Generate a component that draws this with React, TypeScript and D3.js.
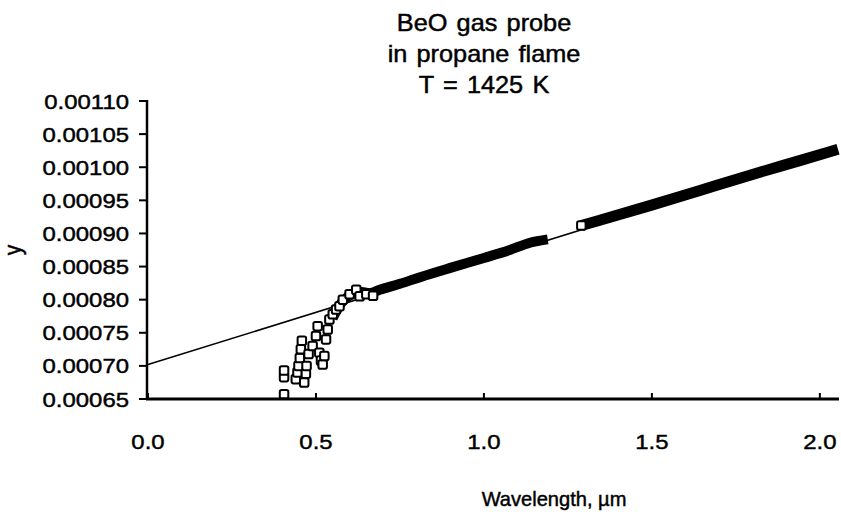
import React from "react";
import * as d3 from "d3";

const titleLines = ["BeO gas probe", "in propane flame", "T = 1425 K"];
const xTicks = [0.0, 0.5, 1.0, 1.5, 2.0];
const yTicks = [0.0011, 0.00105, 0.001, 0.00095, 0.0009, 0.00085, 0.0008, 0.00075, 0.0007, 0.00065];

// Fitted line endpoints
const fitX = [0, 2.054];
const fitY = [0.000702, 0.001026];

const bandAX = [0.55, 0.571, 0.6, 0.63, 0.66, 0.69, 0.75, 0.81, 0.9, 1.0, 1.077, 1.137, 1.19];
const bandAY = [0.000772, 0.000792, 0.000806, 0.000812, 0.00081, 0.000815, 0.000824, 0.000834, 0.000848, 0.000863, 0.000875, 0.000886, 0.000891];
const bandBX = [1.29, 1.345, 1.494, 1.643, 1.792, 1.94, 2.054];
const bandBY = [0.000912, 0.00092, 0.000942, 0.000965, 0.000988, 0.00101, 0.001027];

// Sparse square markers
const sparseX = [0.405, 0.405, 0.405, 0.44, 0.445, 0.448, 0.452, 0.455, 0.458, 0.465, 0.47, 0.472, 0.478, 0.49, 0.5, 0.505, 0.51, 0.515, 0.52, 0.525, 0.53, 0.535, 0.54, 0.55, 0.56, 0.57, 0.58, 0.6, 0.62, 0.63, 0.65, 0.67, 1.29];
const sparseY = [0.000657, 0.000683, 0.000693, 0.00068, 0.00069, 0.0007, 0.000712, 0.000725, 0.000738, 0.000675, 0.000688, 0.0007, 0.000718, 0.00073, 0.000745, 0.00076, 0.00072, 0.000708, 0.000702, 0.000715, 0.00074, 0.000755, 0.00077, 0.000778, 0.000785, 0.00079, 0.0008, 0.000808, 0.000815, 0.000805, 0.000808, 0.000806, 0.000912];

const W = 841;
const H = 512;
const SX = 1.14;
const FONT = "'Liberation Sans', Arial, Helvetica, sans-serif";

export default function App() {
  const x = d3.scaleLinear().domain([0, 2.054]).range([148, 838]);
  const y = d3.scaleLinear().domain([0.00065, 0.0011]).range([399, 101]);
  const line = d3
    .line<[number, number]>()
    .x((d) => x(d[0]))
    .y((d) => y(d[1]))
    .curve(d3.curveMonotoneX);
  const straight = d3
    .line<[number, number]>()
    .x((d) => x(d[0]))
    .y((d) => y(d[1]));

  const fit: [number, number][] = fitX.map((v, i) => [v, fitY[i]]);
  const bandA: [number, number][] = bandAX.map((v, i) => [v, bandAY[i]]);
  const bandB: [number, number][] = bandBX.map((v, i) => [v, bandBY[i]]);
  const sq = 8.5;
  const textProps = { fill: "#000", stroke: "#000", strokeWidth: 0.45 };

  return (
    <svg
      width={W}
      height={H}
      style={{ position: "absolute", left: 0, top: 0, background: "#fff" }}
      fontFamily={FONT}
    >
      <rect width={W} height={H} fill="#fff" />
      {titleLines.map((t, i) => (
        <text
          key={t}
          transform={`translate(484,${31 + i * 31}) scale(1.1,1)`}
          textAnchor="middle"
          fontSize={23}
          wordSpacing={2}
          {...textProps}
        >
          {t}
        </text>
      ))}

      {/* fit line */}
      <path d={straight(fit) || ""} stroke="#000" strokeWidth={1.6} fill="none" />

      {/* dense bands */}
      <path d={line(bandA) || ""} stroke="#000" strokeWidth={10} fill="none" strokeLinecap="butt" />
      <path d={line(bandB) || ""} stroke="#000" strokeWidth={11} fill="none" strokeLinecap="butt" />

      {/* sparse squares */}
      {sparseX.map((v, i) => (
        <rect
          key={i}
          x={x(v) - sq / 2}
          y={y(sparseY[i]) - sq / 2}
          width={sq}
          height={sq}
          rx={1.8}
          fill="#fff"
          stroke="#000"
          strokeWidth={2}
        />
      ))}

      {/* axes */}
      <line x1={147} x2={147} y1={100} y2={400} stroke="#000" strokeWidth={2.5} />
      <line x1={146} x2={839} y1={399} y2={399} stroke="#000" strokeWidth={3} />
      {yTicks.map((t) => (
        <g key={t}>
          <line x1={139} x2={147} y1={y(t)} y2={y(t)} stroke="#000" strokeWidth={2} />
          <text
            transform={`translate(129,${y(t) + 7.5}) scale(${SX},1)`}
            textAnchor="end"
            fontSize={21}
            {...textProps}
          >
            {t.toFixed(5)}
          </text>
        </g>
      ))}
      {xTicks.map((t) => (
        <g key={t}>
          <line x1={x(t)} x2={x(t)} y1={393} y2={399} stroke="#000" strokeWidth={2} />
          <text
            transform={`translate(${x(t)},449) scale(${SX},1)`}
            textAnchor="middle"
            fontSize={21}
            {...textProps}
          >
            {t.toFixed(1)}
          </text>
        </g>
      ))}
      <text
        transform={`translate(554,506) scale(0.98,1)`}
        textAnchor="middle"
        fontSize={20.5}
        {...textProps}
      >
        Wavelength, µm
      </text>
      <text
        transform={`translate(21,250) rotate(-90) scale(1,${SX})`}
        textAnchor="middle"
        fontSize={21}
        {...textProps}
      >
        y
      </text>
    </svg>
  );
}
